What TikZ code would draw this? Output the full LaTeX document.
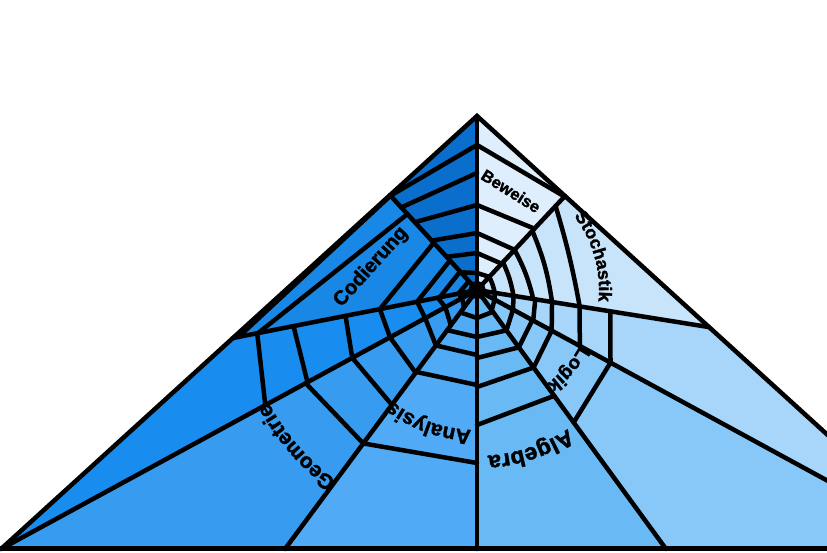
\documentclass[tikz,border=0pt]{standalone}
\usepackage{fontspec}
\setmainfont{Liberation Sans}
\newfontfamily\heavy[BoldFeatures={FakeBold=1.6}]{Liberation Sans}
\usetikzlibrary{calc,decorations.text}
\definecolor{c0}{HTML}{0A6ECD}
\definecolor{c1}{HTML}{1987E6}
\definecolor{c2}{HTML}{198CF0}
\definecolor{c3}{HTML}{379BF0}
\definecolor{c4}{HTML}{50AAF5}
\definecolor{c5}{HTML}{69B9F5}
\definecolor{c6}{HTML}{87C8F8}
\definecolor{c7}{HTML}{A8D6FA}
\definecolor{c8}{HTML}{C8E4FA}
\definecolor{c9}{HTML}{DEEEFC}
\begin{document}
\begin{tikzpicture}[x=1pt,y=1pt,
  web/.style={line width=4.5pt,line join=round,line cap=round,black},
  arclabel/.style={decorate,decoration={text along path,text align=center,text={#1}}}]
\useasboundingbox (0,0) rectangle (827,553);
\clip (0,0) rectangle (827,553);
\fill[white] (0,0) rectangle (827,553);
% key points
\coordinate (C) at (477,263);
\coordinate (A) at (477,437);
\coordinate (L) at (1,4);
\coordinate (R) at (953,4);
\coordinate (E1) at (390,357.9);
\coordinate (E2) at (233,215);
\coordinate (E4) at (285,4);
\coordinate (E5) at (477,4);
\coordinate (E6) at (666,4);
\coordinate (E8) at (709,225.9);
\coordinate (E9) at (565,357);
% sectors
\fill[c0] (C) -- (A) -- (E1) -- cycle;
\fill[c1] (C) -- (E1) -- (E2) -- cycle;
\fill[c2] (C) -- (E2) -- (L) -- cycle;
\fill[c3] (C) -- (L) -- (E4) -- cycle;
\fill[c4] (C) -- (E4) -- (E5) -- cycle;
\fill[c5] (C) -- (E5) -- (E6) -- cycle;
\fill[c6] (C) -- (E6) -- (R) -- cycle;
\fill[c7] (C) -- (R) -- (E8) -- cycle;
\fill[c8] (C) -- (E8) -- (E9) -- cycle;
\fill[c9] (C) -- (E9) -- (A) -- cycle;
% spokes
\foreach \e in {A,E1,E2,L,E4,E5,E6,R,E8,E9}
  \draw[web] (C) -- (\e);
% rungs
\foreach \a/\b in {145/128,117/112,85/92,57/67,37/45,17/24,7/7}
  \draw[web] ($(C)!\a pt!(A)$) -- ($(C)!\b pt!(E1)$);
\foreach \a/\b in {128/243,103/223,64/99,40/61,25/38,12/19,7/7}
  \draw[web] ($(C)!\a pt!(E1)$) -- ($(C)!\b pt!(E2)$);
\foreach \a/\b in {224/241,187/193,134/142,99/99,61/59,40/36,19/17,7/7}
  \draw[web] ($(C)!\a pt!(E2)$) -- ($(C)!\b pt!(L)$);
\foreach \a/\b in {195/191,142/143,99/103,59/69,36/44,17/22,7/7}
  \draw[web] ($(C)!\a pt!(L)$) -- ($(C)!\b pt!(E4)$);
\foreach \a/\b in {191/173,102/95,69/65,50/47,28/28,7/7}
  \draw[web] ($(C)!\a pt!(E4)$) -- ($(C)!\b pt!(E5)$);
\foreach \a/\b in {28/27,47/50,68/71,97/96,135/131,7/7}
  \draw[web] ($(C)!\a pt!(E5)$) -- ($(C)!\b pt!(E6)$);
\foreach \a/\b in {25/20,50/41,71/63,96/85,164/152,7/7}
  \draw[web] ($(C)!\a pt!(E6)$) -- ($(C)!\b pt!(R)$);
\foreach \a/\b in {20/18,41/37,64/59,85/76,117/104,152/135,7/7}
  \draw[web] ($(C)!\a pt!(R)$) -- ($(C)!\b pt!(E8)$);
\foreach \a/\b in {18/18,37/38,57/55,76/81,7/7}
  \draw[web] ($(C)!\a pt!(E8)$) to[bend right=7] ($(C)!\b pt!(E9)$);
\draw[web] ($(C)!104pt!(E8)$) to[bend right=3] ($(C)!115pt!(E9)$);
\foreach \a/\b in {18/17,36/37,55/57,84/85,128/145,7/7}
  \draw[web] ($(C)!\a pt!(E9)$) -- ($(C)!\b pt!(A)$);
% outline
\draw[line width=4.5pt,line join=miter] (L) -- (A) -- (R);
\draw[line width=5pt] (0,4) -- (827,4);
% labels
\node[rotate=48,font=\heavy\bfseries\fontsize{20}{20}\selectfont] (cod) at (371,286) {Codierung};
\node[rotate=-32,font=\heavy\bfseries\fontsize{16.5}{17}\selectfont] (bew) at (511,362) {Beweise};
\path[arclabel={|\heavy\bfseries\fontsize{23}{23}\selectfont|Algebra}]
  ([shift={(-41.5:166)}]C) arc[start angle=-41.5,end angle=-101.5,radius=166];
\path[arclabel={|\heavy\bfseries\fontsize{21}{21}\selectfont|Analysis}]
  ([shift={(-80:140)}]C) arc[start angle=-80,end angle=-140,radius=140];
\path[arclabel={|\heavy\bfseries\fontsize{21}{21}\selectfont|Geometrie}]
  ([shift={(-114:237)}]C) arc[start angle=-114,end angle=-164,radius=237];
\path[arclabel={|\heavy\bfseries\fontsize{19}{19}\selectfont|Logik}]
  ([shift={(-11:117)}]C) arc[start angle=-11,end angle=-71,radius=117];
\path[arclabel={|\heavy\bfseries\fontsize{18}{18}\selectfont|Stochastik}]
  ([shift={(46:122)}]C) arc[start angle=46,end angle=-14,radius=122];
\end{tikzpicture}
\end{document}
